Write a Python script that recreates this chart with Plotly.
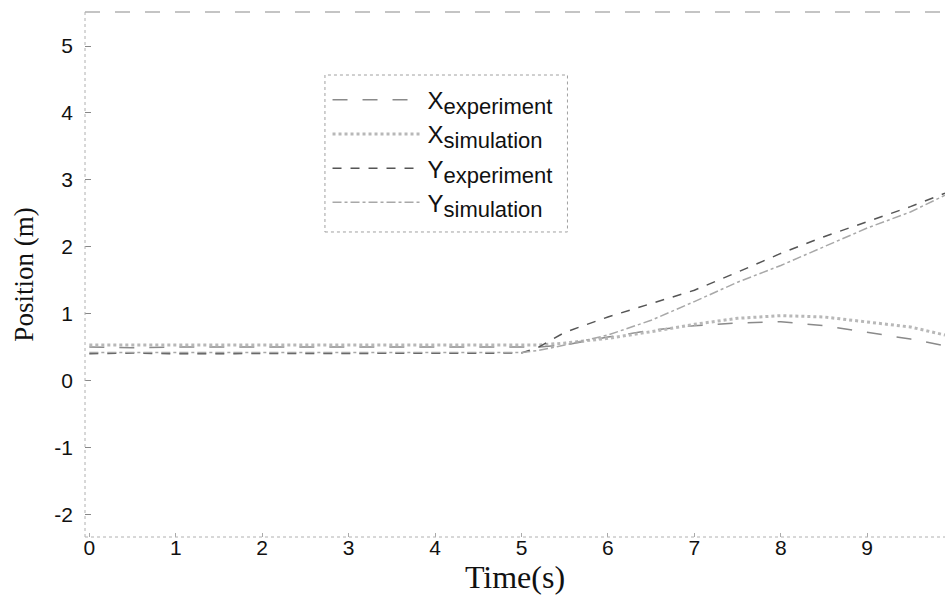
import plotly.graph_objects as go

time_s = [0, 0.5, 1, 1.5, 2, 2.5, 3, 3.5, 4, 4.5, 5, 5.2, 5.5, 6, 6.5, 7, 7.5, 8, 8.5, 9, 9.5, 9.9]
x_experiment = [0.50, 0.49, 0.50, 0.50, 0.49, 0.50, 0.50, 0.49, 0.50, 0.50, 0.50, 0.50, 0.53, 0.65, 0.75, 0.82, 0.86, 0.88, 0.82, 0.72, 0.62, 0.52]
x_simulation = [0.53, 0.53, 0.53, 0.53, 0.53, 0.53, 0.53, 0.53, 0.53, 0.53, 0.53, 0.53, 0.56, 0.63, 0.73, 0.84, 0.93, 0.97, 0.95, 0.87, 0.80, 0.68]
y_experiment = [0.40, 0.41, 0.40, 0.40, 0.41, 0.40, 0.40, 0.41, 0.40, 0.40, 0.41, 0.50, 0.72, 0.95, 1.15, 1.35, 1.62, 1.90, 2.15, 2.38, 2.60, 2.80]
y_simulation = [0.42, 0.42, 0.42, 0.42, 0.42, 0.42, 0.42, 0.42, 0.42, 0.42, 0.42, 0.45, 0.53, 0.68, 0.90, 1.18, 1.47, 1.72, 2.00, 2.28, 2.52, 2.77]

x_ticks = [0, 1, 2, 3, 4, 5, 6, 7, 8, 9]
y_ticks = [-2, -1, 0, 1, 2, 3, 4, 5]

legend_names = ["X", "X", "Y", "Y"]
legend_subs = ["experiment", "simulation", "experiment", "simulation"]


def leg(main, sub):
    return f'{main}<sub><span style="font-size:22px">{sub}</span></sub>'


fig = go.Figure()
fig.add_trace(go.Scatter(x=time_s, y=x_experiment, mode="lines",
                         name=leg(legend_names[0], legend_subs[0]),
                         line=dict(color="#8a8a8a", width=1.5, dash="longdash")))
fig.add_trace(go.Scatter(x=time_s, y=x_simulation, mode="lines",
                         name=leg(legend_names[1], legend_subs[1]),
                         line=dict(color="#b8b8b8", width=3, dash="dot")))
fig.add_trace(go.Scatter(x=time_s, y=y_experiment, mode="lines",
                         name=leg(legend_names[2], legend_subs[2]),
                         line=dict(color="#555555", width=1.5, dash="dash")))
fig.add_trace(go.Scatter(x=time_s, y=y_simulation, mode="lines",
                         name=leg(legend_names[3], legend_subs[3]),
                         line=dict(color="#a8a8a8", width=1.5, dash="dashdot")))

fig.add_shape(type="line", xref="paper", yref="paper", x0=0, x1=1, y0=1, y1=1,
              line=dict(color="#8a8a8a", width=1.2, dash="longdash"))
fig.add_shape(type="line", xref="paper", yref="paper", x0=0, x1=0, y0=0, y1=1,
              line=dict(color="#b0b0b0", width=1, dash="dot"))
fig.add_shape(type="line", xref="paper", yref="paper", x0=0, x1=1, y0=0, y1=0,
              line=dict(color="#b0b0b0", width=1, dash="dot"))
# legend box
fig.add_shape(type="rect", xref="paper", yref="paper", x0=0.279, x1=0.561, y0=0.581, y1=0.88,
              line=dict(color="#a0a0a0", width=1, dash="dot"))

fig.update_layout(
    width=945, height=601,
    margin=dict(l=85, r=0, t=12, b=64),
    paper_bgcolor="white", plot_bgcolor="white",
    font=dict(family="Liberation Sans, Arial", color="#111111"),
    showlegend=True,
    legend=dict(x=0.282, y=0.875, xanchor="left", yanchor="top",
                bgcolor="rgba(255,255,255,0)", borderwidth=0,
                font=dict(family="Liberation Sans, Arial", size=24, color="#111111"),
                itemwidth=90, tracegroupgap=0),
    xaxis=dict(range=[-0.05, 9.9], tickvals=x_ticks, ticktext=[str(v) for v in x_ticks],
               showgrid=False, zeroline=False, showline=False,
               ticks="inside", ticklen=4, tickcolor="#aaaaaa",
               ticklabelstandoff=-4,
               tickfont=dict(family="Liberation Sans, Arial", size=21, color="#111111"),
               title=dict(text="Time(s)", font=dict(family="Liberation Serif, Times New Roman", size=32, color="#111111"),
                          standoff=2)),
    yaxis=dict(range=[-2.34, 5.51], tickvals=y_ticks, ticktext=[str(v) for v in y_ticks],
               showgrid=False, zeroline=False, showline=False,
               ticks="inside", ticklen=6, tickcolor="#888888",
               ticklabelstandoff=11,
               tickfont=dict(family="Liberation Sans, Arial", size=21, color="#111111"),
               title=dict(text="Position (m)", font=dict(family="Liberation Serif, Times New Roman", size=27, color="#111111"),
                          standoff=12)),
)

fig.write_html("out.html")
